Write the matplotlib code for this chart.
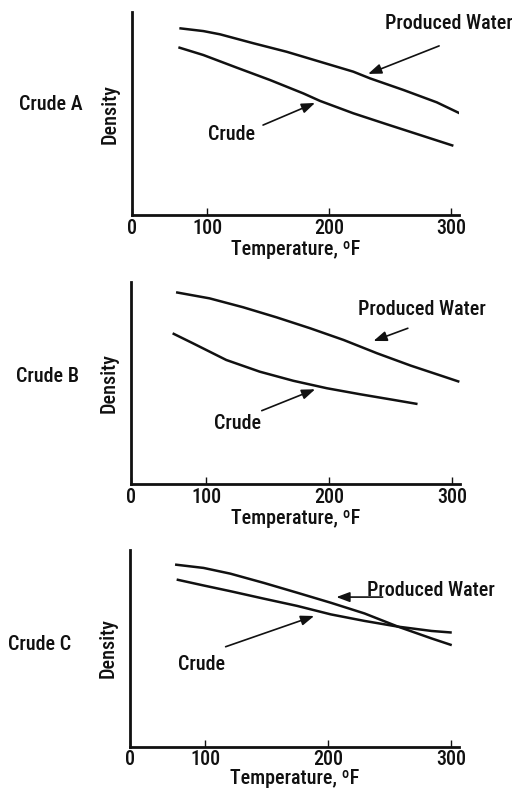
import matplotlib
matplotlib.use("Agg")
import matplotlib.pyplot as plt

plt.rcParams["font.family"] = ["Roboto Condensed", "Archivo Narrow",
                               "PT Sans Narrow", "Liberation Sans", "DejaVu Sans"]

# temperature (F) and relative density readings for each crude
temp_a = [77.3, 97, 110.7, 138, 165.3, 192.6, 219.9, 233.6, 260.9, 288.3, 308.8]
water_a = [0.920, 0.906, 0.890, 0.846, 0.804, 0.755, 0.706, 0.673, 0.616, 0.555, 0.496]
temp_a_crude = [76.5, 97, 124.3, 151.6, 178.9, 192.6, 219.9, 247.3, 274.6, 301.9]
crude_a = [0.826, 0.788, 0.726, 0.665, 0.599, 0.562, 0.501, 0.447, 0.394, 0.341]

temp_b = [75.2, 102.5, 129.8, 157.1, 184.4, 211.7, 239, 266.4, 293.7, 306]
water_b = [0.949, 0.919, 0.875, 0.825, 0.771, 0.713, 0.647, 0.586, 0.531, 0.506]
temp_b_crude = [72.4, 88.8, 116.1, 143.4, 170.7, 198.1, 225.4, 252.7, 271.9]
crude_b = [0.746, 0.697, 0.614, 0.556, 0.511, 0.474, 0.444, 0.416, 0.396]

temp_c = [75.2, 98.4, 120.2, 147.5, 174.8, 202.2, 229.5, 256.8, 284.2, 300.6]
water_c = [0.926, 0.909, 0.880, 0.833, 0.783, 0.732, 0.678, 0.611, 0.551, 0.517]
temp_c_crude = [76.5, 98.4, 120.2, 147.5, 174.8, 202.2, 229.5, 256.8, 284.2, 300.6]
crude_c = [0.850, 0.820, 0.791, 0.753, 0.716, 0.673, 0.640, 0.611, 0.589, 0.581]

X_ORIGIN = 38.5
tick_pos = [X_ORIGIN, 100, 200, 300]
tick_labels = ["0", "100", "200", "300"]

panels = [
    dict(name="Crude A", rect=(132, 12, 459, 215), name_xy=(51, 105),
         tw=temp_a, w=water_a, tc=temp_a_crude, c=crude_a, tpad=3, xpad=1,
         w_label=(298, 0.941), w_arrow=((290.2, 0.833), (232, 0.695)),
         c_label=(120.5, 0.399), c_arrow=((145.9, 0.443), (188.5, 0.552))),
    dict(name="Crude B", rect=(131, 282, 460, 484), name_xy=(47, 377),
         tw=temp_b, w=water_b, tc=temp_b_crude, c=crude_b, tpad=3, xpad=1,
         w_label=(275.4, 0.866), w_arrow=((264, 0.771), (236, 0.708)),
         c_label=(125, 0.30), c_arrow=((145, 0.363), (188.5, 0.469))),
    dict(name="Crude C", rect=(130, 550, 459, 747), name_xy=(40, 645),
         tw=temp_c, w=water_c, tc=temp_c_crude, c=crude_c, tpad=2, xpad=0,
         w_label=(283.6, 0.795), w_arrow=((244.3, 0.761), (206.6, 0.761)),
         c_label=(97, 0.42), c_arrow=((116.4, 0.509), (188.5, 0.665))),
]

W, H = 512, 792
fig = plt.figure(figsize=(W / 100, H / 100), dpi=100)
ink = "#111111"
fs = 14.5
fw = "medium"

for p in panels:
    l, t, r, b = p["rect"]
    ax = fig.add_axes([l / W, 1 - b / H, (r - l) / W, (b - t) / H])
    ax.plot(p["tw"], p["w"], color=ink, lw=1.8, solid_capstyle="butt",
            solid_joinstyle="round")
    ax.plot(p["tc"], p["c"], color=ink, lw=1.8, solid_capstyle="butt",
            solid_joinstyle="round")
    ax.set_xlim(X_ORIGIN, 306.5)
    ax.set_ylim(0, 1)
    for s in ("top", "right"):
        ax.spines[s].set_visible(False)
    for s in ("left", "bottom"):
        ax.spines[s].set_linewidth(2.0)
        ax.spines[s].set_color(ink)
    ax.set_yticks([])
    ax.set_xticks(tick_pos)
    ax.set_xticklabels(tick_labels, fontweight=fw)
    ax.tick_params(axis="x", direction="in", length=5, width=1.0,
                   pad=p["tpad"], labelsize=fs, colors=ink)
    ax.set_xlabel("Temperature, \u00baF", fontsize=fs, fontweight=fw,
                  color=ink, labelpad=p["xpad"])
    ax.set_ylabel("Density", fontsize=fs, fontweight=fw, color=ink,
                  labelpad=9)

    arrow = dict(arrowstyle="-|>,head_length=0.8,head_width=0.3",
                 color=ink, lw=1.2, shrinkA=0, shrinkB=0)
    ax.annotate("", xy=p["w_arrow"][1], xytext=p["w_arrow"][0],
                arrowprops=arrow, annotation_clip=False)
    ax.annotate("", xy=p["c_arrow"][1], xytext=p["c_arrow"][0],
                arrowprops=arrow, annotation_clip=False)
    ax.text(*p["w_label"], "Produced Water", fontsize=fs, fontweight=fw,
            color=ink, ha="center", va="center", clip_on=False)
    ax.text(*p["c_label"], "Crude", fontsize=fs, fontweight=fw,
            color=ink, ha="center", va="center", clip_on=False)

    fig.text(p["name_xy"][0] / W, 1 - p["name_xy"][1] / H, p["name"],
             fontsize=fs, fontweight=fw, color=ink, ha="center", va="center")

fig.savefig("out.png", dpi=100)
